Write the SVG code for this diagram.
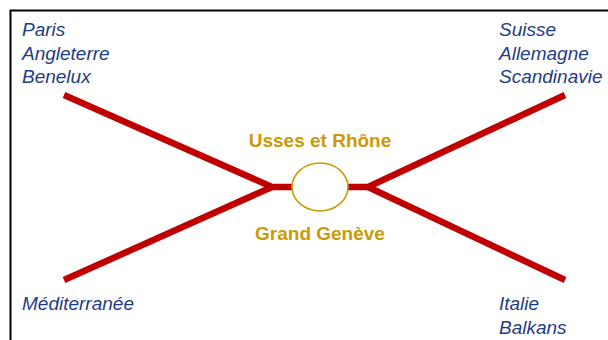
<svg xmlns="http://www.w3.org/2000/svg" width="608" height="340" viewBox="0 0 608 340">
<style>
.frame{fill:none;stroke:#000;stroke-width:2}
.rail{fill:none;stroke:#C00000;stroke-width:6.5;stroke-linejoin:miter}
.place{font-family:"Liberation Sans",Arial,sans-serif;font-style:italic;font-size:19px;fill:#1F3C86}
.hub{font-family:"Liberation Sans",Arial,sans-serif;font-weight:bold;font-size:19px;fill:#C99A06;text-anchor:middle}
</style>
<rect class="frame" x="10.5" y="10.5" width="620" height="360"/>
<g id="connectors">
<polyline class="rail" points="64,95 272,187 292,187"/>
<polyline class="rail" points="64,280 272,187"/>
<polyline class="rail" points="565,95 368,187 348,187"/>
<polyline class="rail" points="565,280 368,187"/>
</g>
<g id="hub">
<ellipse cx="320" cy="187" rx="28" ry="24" fill="#fff" stroke="#C99A06" stroke-width="1.6"/>
<text class="hub" x="320" y="147">Usses et Rhône</text>
<text class="hub" x="320" y="240">Grand Genève</text>
</g>
<g id="nw">
<text class="place" x="22" y="36">Paris</text>
<text class="place" x="22" y="59.5">Angleterre</text>
<text class="place" x="22" y="83">Benelux</text>
</g>
<g id="ne">
<text class="place" x="499" y="36">Suisse</text>
<text class="place" x="499" y="59.5">Allemagne</text>
<text class="place" x="499" y="83">Scandinavie</text>
</g>
<g id="sw">
<text class="place" x="22" y="310">Méditerranée</text>
</g>
<g id="se">
<text class="place" x="499" y="310">Italie</text>
<text class="place" x="499" y="334">Balkans</text>
</g>
</svg>
